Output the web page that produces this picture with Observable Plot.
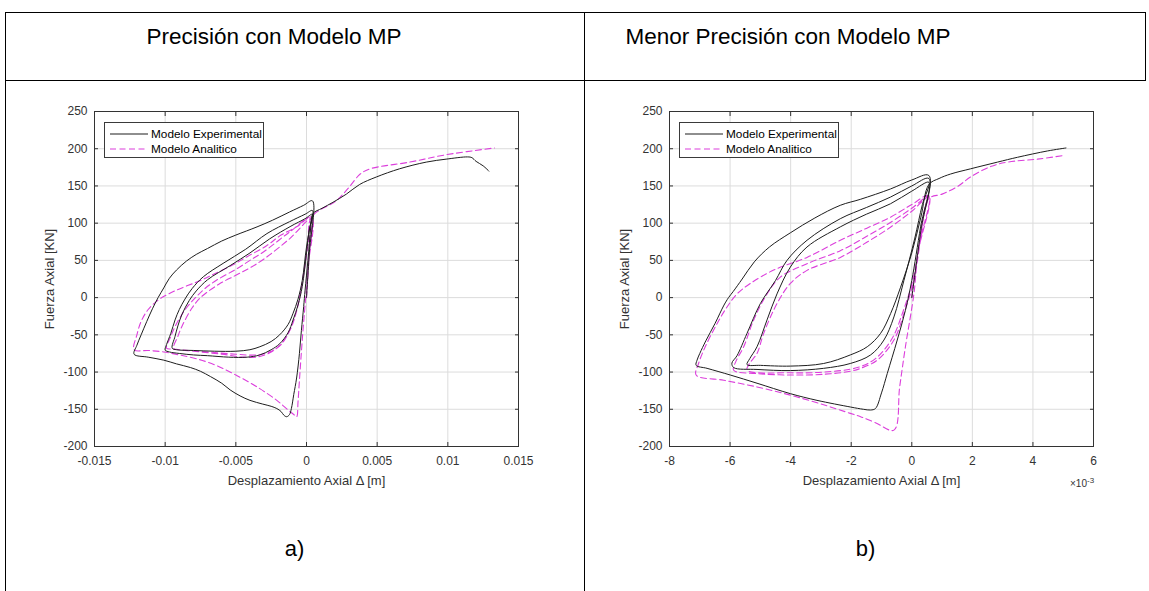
<!DOCTYPE html>
<html><head><meta charset="utf-8">
<script src="https://cdn.jsdelivr.net/npm/d3@7"></script>
<script src="https://cdn.jsdelivr.net/npm/@observablehq/plot@0.6"></script>
<style>
body{margin:0;background:#fff;font-family:"Liberation Sans",Arial,Helvetica,sans-serif;}
#page{position:relative;width:1149px;height:591px;overflow:hidden;background:#fff;}
.ln{position:absolute;background:#000;z-index:5;}
.title{position:absolute;text-align:center;font-size:22.5px;line-height:22px;color:#000;white-space:nowrap;}
.cap{position:absolute;text-align:center;font-size:22px;line-height:22px;color:#000;}
.panel{position:absolute;top:90px;}
.legend{position:absolute;background:#fff;border:1px solid #3a3a3a;box-sizing:border-box;width:160px;height:36px;font-size:11.8px;color:#000;z-index:4;}
.legend .row{position:absolute;left:0;height:14px;line-height:14px;white-space:nowrap;}
.legend svg{position:absolute;left:4px;top:0;}
.legend span{position:absolute;left:46px;top:0;}
.exp{position:absolute;font-size:10px;color:#333;}
.exp sup{font-size:8px;}
</style></head>
<body>
<div id="page">
  <div class="ln" style="left:5px;top:12px;width:1141px;height:1px"></div>
  <div class="ln" style="left:5px;top:80px;width:1141px;height:1px"></div>
  <div class="ln" style="left:5px;top:12px;width:1px;height:579px"></div>
  <div class="ln" style="left:584px;top:12px;width:1px;height:579px"></div>
  <div class="ln" style="left:1145px;top:12px;width:1px;height:69px"></div>
  <div class="title" id="tA" style="left:74px;width:400px;top:26px"></div>
  <div class="title" id="tB" style="left:588px;width:400px;top:26px"></div>
  <div class="cap" id="cA" style="left:5px;width:579px;top:538px"></div>
  <div class="cap" id="cB" style="left:585px;width:561px;top:538px"></div>
  <div class="panel" id="pA" style="left:0px"></div>
  <div class="panel" id="pB" style="left:575px"></div>
  <div class="legend" id="lA" style="left:104px;top:122px"></div>
  <div class="legend" id="lB" style="left:679px;top:122px"></div>
  <div class="exp" style="left:1070px;top:476px">&times;10<sup>-3</sup></div>
</div>
<script>
// ---- texts ----
const titles = ["Precisión con Modelo MP", "Menor Precisión con Modelo MP"];
const captions = ["a)", "b)"];
const seriesNames = ["Modelo Experimental", "Modelo Analitico"];
const xLabel = "Desplazamiento Axial Δ [m]";
const yLabel = "Fuerza Axial [KN]";

// ---- ticks ----
const xTicksA = [-0.015, -0.01, -0.005, 0, 0.005, 0.01, 0.015];
const xTicksB = [-8, -6, -4, -2, 0, 2, 4, 6];
const yTicks = [-200, -150, -100, -50, 0, 50, 100, 150, 200, 250];

// ---- panel a: experimental [x (m), F (kN)] ----
const expA = [
 [0,0],[0.0002,60],[0.00042,130],
 [-0.0002,124],[-0.0012,115],[-0.0024,104],[-0.0035,95],[-0.005,84],[-0.006,76],[-0.007,66],[-0.0078,58],[-0.0085,49],[-0.0092,37],[-0.0097,26],[-0.0101,13],[-0.0105,0],[-0.0109,-15],[-0.0113,-32],[-0.0117,-50],[-0.012,-64],[-0.0122,-76],
 [-0.0112,-80],[-0.0101,-84],[-0.0092,-89],[-0.0082,-94],[-0.0075,-99],[-0.0068,-106],[-0.006,-115],[-0.0054,-124],[-0.0047,-132],[-0.004,-138],[-0.0031,-143],[-0.0025,-146],[-0.0021,-149],[-0.0018,-153],[-0.0016,-158],[-0.0014,-160],[-0.0012,-157],
 [-0.00107,-149],[-0.0009,-130],[-0.0007,-108],[-0.0005,-75],[-0.00036,-44],[-0.0002,-12],[-0.0001,10],[0.0001,50],[0.0003,95],[0.00042,117],
 [-0.0001,112],[-0.0012,102],[-0.0028,86],[-0.0043,65],[-0.0059,46],[-0.0073,28],[-0.0081,12],[-0.0086,-2],[-0.009,-16],[-0.0093,-30],[-0.0096,-48],[-0.0099,-63],[-0.01,-70.5],
 [-0.0097,-73],[-0.009,-75],[-0.008,-77],[-0.007,-78],[-0.0055,-80],[-0.0042,-80],[-0.0033,-77],[-0.0025,-70],[-0.0019,-62],[-0.0013,-47],[-0.00095,-30],[-0.0006,-10],[-0.0003,15],[0,60],[0.0002,92],[0.00042,112],
 [-0.0001,106],[-0.0011,96],[-0.0026,79],[-0.004,60],[-0.0054,43],[-0.007,24],[-0.0078,9],[-0.0083,-4],[-0.0088,-22],[-0.0091,-38],[-0.0093,-52],[-0.0095,-68],
 [-0.0092,-70],[-0.008,-71],[-0.0065,-72],[-0.005,-72],[-0.004,-70],[-0.0033,-66],[-0.0025,-59],[-0.0019,-50],[-0.0013,-36],[-0.00095,-21],[-0.0006,-2],[-0.0003,23],[0,68],[0.0003,100],[0.00046,113],
 [0.0011,120],[0.00187,128],[0.00282,139],[0.00376,152],[0.00494,162],[0.00658,173],[0.00847,182],[0.00988,186],[0.0114,189],[0.0117,188],[0.012,183],[0.0125,177],[0.0129,170]
];
// ---- panel a: analytical ----
const anaA = [
 [0,0],[0.0002,60],[0.00035,108],
 [-0.0007,95],[-0.0018,84],[-0.0028,70],[-0.0042,55],[-0.0052,44],[-0.0065,32],[-0.0075,23],[-0.0092,10],[-0.0104,-2],[-0.0112,-16],[-0.0117,-32],[-0.012,-50],[-0.0122,-70],
 [-0.0112,-71],[-0.0101,-73],[-0.009,-77],[-0.0078,-82],[-0.0064,-91],[-0.005,-104],[-0.0035,-120],[-0.0021,-138],[-0.0013,-151],[-0.0009,-157],[-0.0007,-160],
 [-0.0006,-140],[-0.0005,-111],[-0.00035,-70],[-0.00025,-44],[-0.0001,-10],[0.0001,40],[0.00035,108],
 [-0.0012,88],[-0.003,62],[-0.004,50],[-0.005,38],[-0.0064,23],[-0.0072,12],[-0.0078,1],[-0.0085,-14],[-0.0092,-35],[-0.0096,-52],[-0.0099,-68],
 [-0.0095,-69],[-0.009,-70],[-0.007,-73],[-0.005,-76],[-0.0035,-77],[-0.0025,-72],[-0.0018,-63],[-0.0012,-45],[-0.0008,-25],[-0.0004,10],[0,60],[0.00035,106],
 [-0.0012,79],[-0.003,52],[-0.004,40],[-0.005,30],[-0.0062,18],[-0.0075,0],[-0.0081,-14],[-0.0088,-38],[-0.0091,-52],[-0.0094,-68],
 [-0.009,-70],[-0.008,-72],[-0.006,-76],[-0.0045,-80],[-0.0033,-79],[-0.0024,-72],[-0.0017,-60],[-0.0011,-40],[-0.0007,-18],[-0.0003,20],[0.0001,70],[0.00035,108],
 [0.0021,130],[0.003,148],[0.0038,166],[0.0045,173],[0.0073,182],[0.0099,192],[0.0133,201]
];
// ---- panel b: experimental [x (x10^-3 m), F (kN)] ----
const expB = [
 [0,0],[0.3,90],[0.565,164],
 [0,158],[-0.7,146],[-1.7,132],[-2.36,124],[-3.2,107],[-4.01,87],[-4.7,68],[-5.2,48],[-5.6,25],[-5.9,8],[-6.05,0],[-6.2,-10],[-6.5,-35],[-6.8,-58],[-7.0,-75],[-7.09,-84],[-7.12,-91],
 [-6.76,-95],[-5.99,-104],[-5.11,-115],[-4.01,-129],[-3.13,-138],[-2.02,-147],[-1.6,-150],[-1.36,-151],[-1.2,-149],[-1.0,-128],[-0.81,-102],[-0.48,-57],[-0.21,-17],[0,23],[0.29,95],[0.565,160],
 [0,150],[-0.705,135],[-1.5,121],[-2.36,106],[-3.46,77],[-4.12,50],[-4.5,23],[-5.0,-8],[-5.44,-48],[-5.77,-78],[-5.94,-88],
 [-5.88,-94],[-5.11,-96.5],[-4.01,-98],[-2.91,-95],[-2.03,-88.5],[-1.36,-77],[-0.92,-57],[-0.59,-26],[-0.26,23],[0.1,80],[0.35,125],[0.565,155],
 [0,143],[-0.705,126],[-1.5,112],[-2.36,95],[-3.46,68],[-4.01,41],[-4.45,5],[-4.78,-30],[-5.11,-66],[-5.35,-82],[-5.44,-90],
 [-5.0,-91],[-4.01,-92],[-2.91,-88.5],[-2.03,-77],[-1.47,-66],[-1.03,-48],[-0.7,-21.5],[-0.37,14],[0,60],[0.3,108],[0.565,152],
 [0.9,160],[1.28,166],[1.94,173],[2.83,182],[3.49,188.5],[4.48,197],[5.09,201]
];
// ---- panel b: analytical ----
const anaB = [
 [0,0],[0.2,60],[0.565,137],
 [0,125],[-0.705,108],[-1.5,93],[-2.36,77],[-3.46,54],[-4.56,37],[-5.33,19],[-5.77,5],[-6.1,-12.6],[-6.43,-35],[-6.82,-66],[-7.04,-88.5],[-7.12,-104],
 [-6.21,-111],[-5.11,-120],[-4.01,-131],[-2.91,-144],[-2.03,-155.5],[-1.69,-160],[-1.2,-168],[-0.59,-178],
 [-0.4,-120],[-0.21,-66],[0.07,5],[0.18,50],[0.45,121],[0.565,137],
 [0,120],[-0.705,101],[-1.5,82],[-2.36,63],[-3.46,45.6],[-4.34,27.6],[-4.78,5],[-5.22,-30],[-5.55,-66],[-5.8,-85],[-5.88,-97.5],
 [-5.11,-102],[-4.01,-104],[-2.91,-103],[-2.03,-99],[-1.69,-95],[-1.14,-84],[-0.59,-57],[-0.26,-21.5],[0.07,23],[0.3,80],[0.565,135],
 [0,116],[-0.705,94.6],[-1.5,74],[-2.36,54],[-3.46,36.6],[-4.01,19],[-4.45,-8],[-4.89,-48],[-5.11,-75],[-5.35,-88],[-5.44,-97.5],
 [-4.01,-101],[-2.91,-100],[-1.8,-94],[-1.2,-82],[-0.65,-55],[-0.3,-20],[0.03,23],[0.3,85],[0.565,133],
 [1.0,139],[1.5,149],[1.94,162],[2.6,176],[3.16,182],[4.15,186],[5.03,191]
];

const FONT = '"Liberation Sans", Arial, Helvetica, sans-serif';
const EXP_COLOR = "#1e1e1e";
const ANA_COLOR = "#dc3fdc";
const AXIS_COLOR = "#333";

function panel(exp, ana, xDomain, xTicks) {
  return Plot.plot({
    width: 560, height: 410,
    marginLeft: 94, marginRight: 42, marginTop: 21, marginBottom: 54,
    style: {background: "transparent", fontFamily: FONT, overflow: "visible"},
    x: {domain: xDomain},
    y: {domain: [-200, 250]},
    marks: [
      Plot.gridX(xTicks, {stroke: "#dcdcdc", strokeOpacity: 1}),
      Plot.gridY(yTicks, {stroke: "#dcdcdc", strokeOpacity: 1}),
      Plot.line(ana, {x: d => d[0], y: d => d[1], stroke: ANA_COLOR, strokeWidth: 1.1, strokeDasharray: "6,3.5", curve: "catmull-rom"}),
      Plot.line(exp, {x: d => d[0], y: d => d[1], stroke: EXP_COLOR, strokeWidth: 1, curve: "catmull-rom"}),
      Plot.frame({stroke: AXIS_COLOR, strokeWidth: 1}),
      Plot.axisX(xTicks, {anchor: "bottom", tickSize: 0, tickPadding: 10, tickFormat: d => String(d), fontSize: 12, color: AXIS_COLOR, label: null}),
      Plot.axisY(yTicks, {anchor: "left", tickSize: 0, tickPadding: 7, tickFormat: d => String(d), fontSize: 12, color: AXIS_COLOR, label: null}),
      Plot.axisX(xTicks, {anchor: "bottom", tickSize: 0, tickFormat: () => "", fontSize: 13, color: AXIS_COLOR, label: xLabel, labelArrow: "none", labelAnchor: "center", labelOffset: 38}),
      Plot.axisY(yTicks, {anchor: "left", tickSize: 0, tickFormat: () => "", fontSize: 13, color: AXIS_COLOR, label: yLabel, labelArrow: "none", labelAnchor: "center", labelOffset: 50}),
      Plot.axisX(xTicks, {anchor: "bottom", tickSize: -4, tickFormat: () => "", stroke: AXIS_COLOR, label: null}),
      Plot.axisX(xTicks, {anchor: "top", tickSize: -4, tickFormat: () => "", stroke: AXIS_COLOR, label: null}),
      Plot.axisY(yTicks, {anchor: "left", tickSize: -4, tickFormat: () => "", stroke: AXIS_COLOR, label: null}),
      Plot.axisY(yTicks, {anchor: "right", tickSize: -4, tickFormat: () => "", stroke: AXIS_COLOR, label: null})
    ]
  });
}

document.getElementById("pA").appendChild(panel(expA, anaA, [-0.015, 0.015], xTicksA));
document.getElementById("pB").appendChild(panel(expB, anaB, [-8, 6], xTicksB));

document.getElementById("tA").textContent = titles[0];
document.getElementById("tB").textContent = titles[1];
document.getElementById("cA").textContent = captions[0];
document.getElementById("cB").textContent = captions[1];

function legend(el) {
  const rows = [
    {name: seriesNames[0], color: EXP_COLOR, dash: null, top: 4},
    {name: seriesNames[1], color: ANA_COLOR, dash: "6,3.5", top: 19}
  ];
  for (const r of rows) {
    const row = document.createElement("div");
    row.className = "row";
    row.style.top = r.top + "px";
    row.innerHTML = `<svg width="40" height="14"><line x1="1" x2="39" y1="7" y2="7" stroke="${r.color}" stroke-width="1.1" ${r.dash ? `stroke-dasharray="${r.dash}"` : ""}/></svg><span>${r.name}</span>`;
    el.appendChild(row);
  }
}
legend(document.getElementById("lA"));
legend(document.getElementById("lB"));
</script>
</body></html>
